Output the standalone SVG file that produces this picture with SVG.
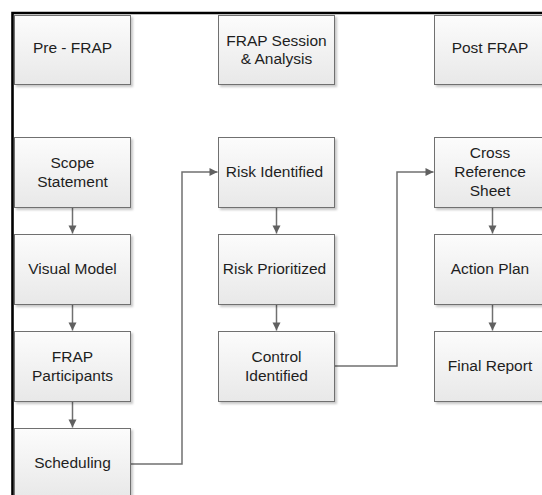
<svg xmlns="http://www.w3.org/2000/svg" width="542" height="495" viewBox="0 0 542 495">
<style>
.box{fill:url(#g);stroke:#6f6f6f;stroke-width:1;filter:url(#sh)}
.t{font-family:"Liberation Sans",Arial,sans-serif;font-size:15.5px;fill:#1e1e1e;text-anchor:middle}
.c{fill:none;stroke:#707070;stroke-width:1.5}
</style>
<defs>
<linearGradient id="g" x1="0" y1="0" x2="0" y2="1">
<stop offset="0" stop-color="#fcfcfc"/>
<stop offset="1" stop-color="#e8e8e8"/>
</linearGradient>
<filter id="sh" x="-10%" y="-10%" width="125%" height="130%">
<feDropShadow dx="2" dy="2" stdDeviation="1" flood-color="#000" flood-opacity="0.22"/>
</filter>
<marker id="a" markerUnits="userSpaceOnUse" markerWidth="10" markerHeight="10" refX="9" refY="5" orient="auto">
<path d="M1,1 L9,5 L1,9 Z" fill="#606060"/>
</marker>
</defs>
<rect width="542" height="495" fill="#fff"/>
<path d="M12.5,495 V13 H542" fill="none" stroke="#000" stroke-width="2.6"/>

<g id="connectors">
<path class="c" d="M72.5,207.5 V233.5" marker-end="url(#a)"/>
<path class="c" d="M72.5,304.5 V330.5" marker-end="url(#a)"/>
<path class="c" d="M72.5,401.5 V427.5" marker-end="url(#a)"/>
<path class="c" d="M276.5,207.5 V233.5" marker-end="url(#a)"/>
<path class="c" d="M276.5,304.5 V330.5" marker-end="url(#a)"/>
<path class="c" d="M492.5,207.5 V233.5" marker-end="url(#a)"/>
<path class="c" d="M492.5,304.5 V330.5" marker-end="url(#a)"/>
<path class="c" d="M130.5,464 H182 V172 H217.5" marker-end="url(#a)"/>
<path class="c" d="M334.5,366 H397 V172 H433.5" marker-end="url(#a)"/>
</g>

<g id="pre-frap"><rect class="box" x="14.5" y="15.5" width="116" height="69"/><text class="t" x="72.5" y="53">Pre - FRAP</text></g>
<g id="frap-session"><rect class="box" x="218.5" y="15.5" width="116" height="69"/><text class="t" x="276.5" y="46">FRAP Session</text><text class="t" x="276.5" y="64">&amp; Analysis</text></g>
<g id="post-frap"><rect class="box" x="434.5" y="15.5" width="116" height="69"/><text class="t" x="490" y="53">Post FRAP</text></g>

<g id="scope-statement"><rect class="box" x="14.5" y="137.5" width="116" height="70"/><text class="t" x="72.5" y="168">Scope</text><text class="t" x="72.5" y="187">Statement</text></g>
<g id="visual-model"><rect class="box" x="14.5" y="234.5" width="116" height="70"/><text class="t" x="72.5" y="274">Visual Model</text></g>
<g id="frap-participants"><rect class="box" x="14.5" y="331.5" width="116" height="70"/><text class="t" x="72.5" y="362">FRAP</text><text class="t" x="72.5" y="381">Participants</text></g>
<g id="scheduling"><rect class="box" x="14.5" y="428.5" width="116" height="70"/><text class="t" x="72.5" y="468">Scheduling</text></g>

<g id="risk-identified"><rect class="box" x="218.5" y="137.5" width="116" height="70"/><text class="t" x="274.5" y="177">Risk Identified</text></g>
<g id="risk-prioritized"><rect class="box" x="218.5" y="234.5" width="116" height="70"/><text class="t" x="274.5" y="274">Risk Prioritized</text></g>
<g id="control-identified"><rect class="box" x="218.5" y="331.5" width="116" height="70"/><text class="t" x="276.5" y="362">Control</text><text class="t" x="276.5" y="381">Identified</text></g>

<g id="cross-reference-sheet"><rect class="box" x="434.5" y="137.5" width="116" height="70"/><text class="t" x="490" y="158">Cross</text><text class="t" x="490" y="177">Reference</text><text class="t" x="490" y="196">Sheet</text></g>
<g id="action-plan"><rect class="box" x="434.5" y="234.5" width="116" height="70"/><text class="t" x="490" y="274">Action Plan</text></g>
<g id="final-report"><rect class="box" x="434.5" y="331.5" width="116" height="70"/><text class="t" x="490" y="371">Final Report</text></g>
</svg>
